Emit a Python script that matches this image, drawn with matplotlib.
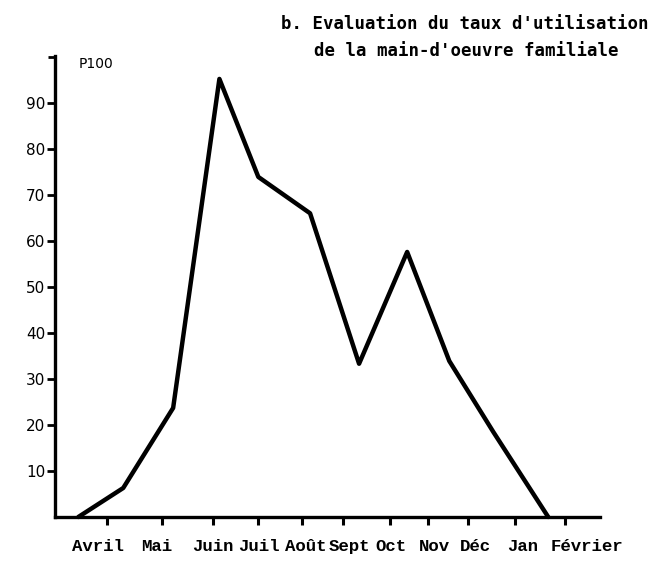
import matplotlib.pyplot as plt
from matplotlib.ticker import FixedLocator, NullFormatter

# Data (x in months, Avril tick = 0; y in percent)
month_labels = ['Avril', 'Mai', 'Juin', 'Juil', 'Août', 'Sept', 'Oct',
                'Nov', 'Déc', 'Jan', 'Février']
tick_pos = [0, 1.20, 2.31, 3.30, 4.26, 5.15, 6.18, 7.01, 7.88, 8.91, 10.0]
label_pos = [-0.20, 1.07, 2.31, 3.32, 4.34, 5.28, 6.20, 7.14, 8.03, 9.08, 10.48]

x_vals = [-0.63, 0.35, 1.44, 2.45, 3.30, 4.43, 5.50, 6.55, 7.47, 8.43, 9.63]
taux = [0, 6.3, 23.7, 95.2, 73.9, 66.0, 33.3, 57.6, 33.9, 18.5, 0]

y_ticks = [10, 20, 30, 40, 50, 60, 70, 80, 90]

fig = plt.figure(figsize=(6.65, 5.65), dpi=100)
ax = fig.add_axes([0.0827, 0.085, 0.8195, 0.816])

ax.plot(x_vals, taux, color='black', lw=3.2, solid_joinstyle='round',
        solid_capstyle='round', clip_on=False)

ax.set_xlim(-1.14, 10.76)
ax.set_ylim(0, 100.2)

for side in ['top', 'right']:
    ax.spines[side].set_visible(False)
for side in ['left', 'bottom']:
    ax.spines[side].set_linewidth(2.4)

# x axis: tick marks at month marks, labels on minor ticks
ax.xaxis.remove_overlapping_locs = False
ax.xaxis.set_major_locator(FixedLocator(tick_pos))
ax.xaxis.set_major_formatter(NullFormatter())
ax.xaxis.set_minor_locator(FixedLocator(label_pos))
ax.set_xticklabels(month_labels, minor=True, family='Liberation Mono',
                   fontweight='bold', fontsize=12.5)
ax.tick_params(axis='x', which='major', direction='out', length=6, width=2.2)
ax.tick_params(axis='x', which='minor', length=0, pad=16)

# y axis
ax.set_yticks(y_ticks)
ax.set_yticklabels([str(v) for v in y_ticks], fontsize=11)
ax.yaxis.set_minor_locator(FixedLocator([100]))
ax.tick_params(axis='y', which='major', direction='out', length=6, width=2, pad=1)
ax.tick_params(axis='y', which='minor', direction='out', length=5, width=2)

ax.text(-0.62, 98.5, 'P100', fontsize=10, ha='left', va='center')

fig.text(465 / 665, 1 - 24 / 565, "b. Evaluation du taux d'utilisation",
         family='DejaVu Sans Mono', fontweight='bold', fontsize=12.5,
         ha='center', va='center')
fig.text(466 / 665, 1 - 51 / 565, "de la main-d'oeuvre familiale",
         family='DejaVu Sans Mono', fontweight='bold', fontsize=12.5,
         ha='center', va='center')

fig.savefig('out.png', dpi=100)
